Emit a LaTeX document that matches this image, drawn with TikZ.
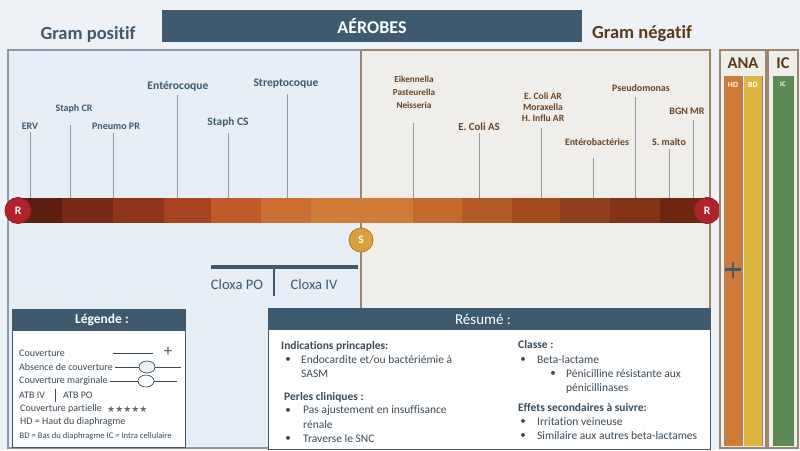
\documentclass[tikz,border=0pt]{standalone}
\usepackage{fontspec}
\setmainfont{Carlito}[Ligatures=NoCommon]
\newfontfamily\symfont{DejaVu Sans}
\definecolor{bgc}{HTML}{EEF1F6}
\definecolor{slate}{HTML}{3E5A6F}
\definecolor{lpanel}{HTML}{E7EEF6}
\definecolor{lborder}{HTML}{8A9AAB}
\definecolor{rpanel}{HTML}{F0EEEA}
\definecolor{rborder}{HTML}{9C8670}
\definecolor{brownt}{HTML}{6A4424}
\definecolor{gneg}{HTML}{5B3A1C}
\definecolor{tickc}{HTML}{8E99A4}
\definecolor{rred}{HTML}{B1232B}
\definecolor{rredd}{HTML}{8C1A20}
\definecolor{sgold}{HTML}{D9A03B}
\definecolor{sgoldd}{HTML}{B07A22}
\definecolor{hdc}{HTML}{D07A38}
\definecolor{bdc}{HTML}{DDB540}
\definecolor{icc}{HTML}{5B8A55}
\definecolor{txt}{HTML}{3A4A58}
\definecolor{sa}{HTML}{5C1F0F}
\definecolor{sb}{HTML}{782A16}
\definecolor{sc}{HTML}{8E3519}
\definecolor{sd}{HTML}{A9421E}
\definecolor{se}{HTML}{C05A28}
\definecolor{sf}{HTML}{CB6F34}
\definecolor{sg}{HTML}{D17B38}
\definecolor{sh}{HTML}{C46A2E}
\definecolor{si}{HTML}{B45A26}
\definecolor{sj}{HTML}{A34A1F}
\definecolor{sk}{HTML}{92401C}
\definecolor{sl}{HTML}{823316}
\definecolor{sm}{HTML}{6E2510}
\newcommand\fsz[1]{\fontsize{#1}{#1}\selectfont}
\begin{document}
\begin{tikzpicture}[x=1pt,y=-1pt,
  lbl/.style={font=\bfseries\fsz{#1}, text=slate, inner sep=0pt},
  rlbl/.style={font=\bfseries\fsz{#1}, text=brownt, inner sep=0pt},
  tickline/.style={draw=tickc, line width=0.9pt},
  rcirc/.style={circle, fill=rred, draw=rredd, line width=0.8pt, minimum size=26pt, inner sep=0pt, text=white, font=\bfseries\fsz{11.5}},
  scirc/.style={circle, fill=sgold, draw=sgoldd, line width=0.8pt, minimum size=24pt, inner sep=0pt, text=white, font=\bfseries\fsz{11.5}},
  body/.style={font=\fsz{11.5}, text=txt, inner sep=0pt, anchor=west},
  bhead/.style={font=\bfseries\fsz{11.5}, text=txt, inner sep=0pt, anchor=west},
  leg/.style={font=\fsz{10}, text=txt, inner sep=0pt, anchor=west},
  bul/.style={font=\fsz{11}, text=txt, inner sep=0pt},
]
\fill[bgc] (0,0) rectangle (800,450);
\useasboundingbox (0,0) rectangle (800,450);

% panels
\draw[rborder, fill=rpanel, line width=1.5pt] (361,50) rectangle (710,448);
\draw[lborder, fill=lpanel, line width=1.5pt] (8,50) rectangle (361,448);
\draw[rborder, line width=1.5pt] (361,50) -- (361,308);

% banner
\node[fill=slate, minimum width=420pt, minimum height=32pt, inner sep=0pt, text=white, font=\bfseries\fsz{18}] (banner) at (372,26) {AÉROBES};
\node[font=\bfseries\fsz{18.5}, text=slate, inner sep=0pt] (gpos) at (88,34) {Gram positif};
\node[font=\bfseries\fsz{18.5}, text=gneg, inner sep=0pt] (gneg) at (642,34) {Gram négatif};

% tick lines
\foreach \x/\t in {30/132,70/125,113/133,177/95,228/133,287/94,413/123,479/133,541/128,593/158,635/97,669/149,693/120}
  \draw[tickline] (\x,\t) -- (\x,198);

% bar
\foreach \a/\b/\c in {18/62/sa,62/113/sb,113/164/sc,164/211/sd,211/261/se,261/311/sf,311/413/sg,413/462/sh,462/512/si,512/560/sj,560/610/sk,610/660/sl,660/707/sm}
  \fill[\c] (\a,198) rectangle (\b,223);

\node[rcirc] (rl) at (18,210.5) {R};
\node[rcirc] (rr) at (707,210.5) {R};
\node[scirc] (s) at (361,240) {S};

% labels gram positive
\node[lbl=10] (erv) at (30,126) {ERV};
\node[lbl=10] (scr) at (74,109) {Staph CR};
\node[lbl=10] (ppr) at (116,126) {Pneumo PR};
\node[lbl=11.6] (ent) at (178,86) {Entérocoque};
\node[lbl=11.4] (scs) at (228,122.5) {Staph CS};
\node[lbl=11.6] (strep) at (286,84) {Streptocoque};
% labels gram negative
\node[rlbl=9.2] (eik) at (414,79.5) {Eikennella};
\node[rlbl=9.2] (pas) at (414,92.5) {Pasteurella};
\node[rlbl=9.2] (nei) at (414,105.5) {Neisseria};
\node[rlbl=10.8] (ecas) at (479,127) {E. Coli AS};
\node[rlbl=9.6] (ecar) at (543,96) {E. Coli AR};
\node[rlbl=9.6] (mor) at (543,107) {Moraxella};
\node[rlbl=9.6] (hin) at (543,118.5) {H. Influ AR};
\node[rlbl=9.8] (entb) at (597,142) {Entérobactéries};
\node[rlbl=9.9] (pse) at (641,88) {Pseudomonas};
\node[rlbl=10] (smal) at (669,142) {S. malto};
\node[rlbl=10] (bgn) at (687,111) {BGN MR};

% cloxa
\coordinate (cl1) at (211,267);
\coordinate (cl2) at (358,267);
\coordinate (cd1) at (274,267);
\coordinate (cd2) at (274,296);
\draw[slate, line width=4pt] (cl1) -- (cl2);
\draw[slate, line width=2pt] (cd1) -- (cd2);
\node[font=\fsz{14.6}, text=slate, inner sep=0pt] (cpo) at (237,284) {Cloxa PO};
\node[font=\fsz{14.6}, text=slate, inner sep=0pt] (civ) at (314,284) {Cloxa IV};

% ANA / IC columns
\draw[rborder, fill=rpanel, line width=1.2pt] (720,50) rectangle (766,448);
\draw[rborder, fill=rpanel, line width=1.2pt] (768,50) rectangle (798,448);
\fill[hdc] (724,76) rectangle (742.5,446);
\fill[bdc] (743.5,76) rectangle (762,446);
\fill[icc] (773,76) rectangle (794,446);
\draw[rborder, line width=0.6pt] (742.5,76) -- (742.5,446);
\draw[rborder, line width=0.6pt] (762.5,76) -- (762.5,446);
\draw[rborder, line width=0.6pt] (724,76) -- (724,446);
\node[font=\bfseries\fsz{16.5}, text=gneg, inner sep=0pt] (ana) at (743,63) {ANA};
\node[font=\bfseries\fsz{16.5}, text=gneg, inner sep=0pt] (ic) at (783,63) {IC};
\node[font=\bfseries\fsz{8}, text=white, inner sep=0pt] (hd) at (733,84.5) {HD};
\node[font=\bfseries\fsz{8}, text=white, inner sep=0pt] (bd) at (753,84.5) {BD};
\node[font=\bfseries\fsz{7}, text=white, inner sep=0pt] (icl) at (783,84) {IC};
\draw[slate, line width=2.5pt] (725,269.5) -- (741,269.5) (733,261.5) -- (733,277.5);

% legend box
\draw[slate, fill=white, line width=1pt] (12,309) rectangle (185,447);
\fill[slate] (12,309) rectangle (185,331);
\node[font=\bfseries\fsz{13.5}, text=white, inner sep=0pt] (legh) at (102,320) {Légende :};
\node[leg] (l1) at (19,353) {Couverture};
\draw[txt, line width=0.7pt] (113,353) -- (153,353);
\node[font=\fsz{17}, text=slate, inner sep=0pt] (lplus) at (168,352) {+};
\node[leg] (l2) at (19,367) {Absence de couverture};
\draw[txt, line width=0.7pt] (114.5,367) -- (181,367);
\draw[txt, fill=lpanel!80!gray!40, line width=0.7pt] (147,367) ellipse [x radius=8, y radius=6];
\node[leg] (l3) at (19,381) {Couverture marginale};
\draw[txt, line width=0.7pt] (110,381) -- (177,381);
\draw[txt, fill=white, line width=0.7pt] (146,381) ellipse [x radius=8, y radius=6];
\node[leg] (l4) at (19,395) {ATB IV};
\draw[txt, line width=0.8pt] (55,389) -- (55,402);
\node[leg] (l5) at (63,395) {ATB PO};
\node[leg] (l6) at (20,409) {Couverture partielle};
\node[font=\symfont\fsz{9}, text=txt!80, inner sep=0pt, anchor=west] (stars) at (107,409) {★★★★★};
\node[leg] (l7) at (20,422) {HD = Haut du diaphragme};
\node[font=\fsz{8.6}, text=txt, inner sep=0pt, anchor=west] (l8) at (19.5,436) {BD = Bas du diaphragme IC = Intra cellulaire};

% resume box
\draw[slate, fill=white, line width=1pt] (268,308) rectangle (710,449);
\fill[slate] (268,308) rectangle (710,330);
\node[font=\fsz{15}, text=white, inner sep=0pt] (resh) at (483,319) {Résumé :};

\node[bhead] (ip) at (281,346) {Indications princaples:};
\node[bul] (b1) at (288,360) {•};
\node[body] (t1) at (301,360) {Endocardite et/ou bactériémie à};
\node[body] (t1b) at (301,374) {SASM};
\node[bhead] (pc) at (284,397) {Perles cliniques :};
\node[bul] (b2) at (288,411) {•};
\node[body] (t2) at (303,411) {Pas ajustement en insuffisance};
\node[body] (t2b) at (303,425) {rénale};
\node[bul] (b3) at (288,439) {•};
\node[body] (t3) at (303,439) {Traverse le SNC};

\node[bhead] (cls) at (518,345) {Classe :};
\node[bul] (b4) at (523,360) {•};
\node[body] (t4) at (537,360) {Beta-lactame};
\node[bul] (b5) at (553,374) {•};
\node[body] (t5) at (566,374) {Pénicilline résistante aux};
\node[body] (t5b) at (566,388) {pénicillinases};
\node[bhead] (eff) at (518,408) {Effets secondaires à suivre:};
\node[bul] (b6) at (523,422) {•};
\node[body] (t6) at (537,422) {Irritation veineuse};
\node[bul] (b7) at (523,436) {•};
\node[body] (t7) at (537,436) {Similaire aux autres beta-lactames};
\end{tikzpicture}
\end{document}
